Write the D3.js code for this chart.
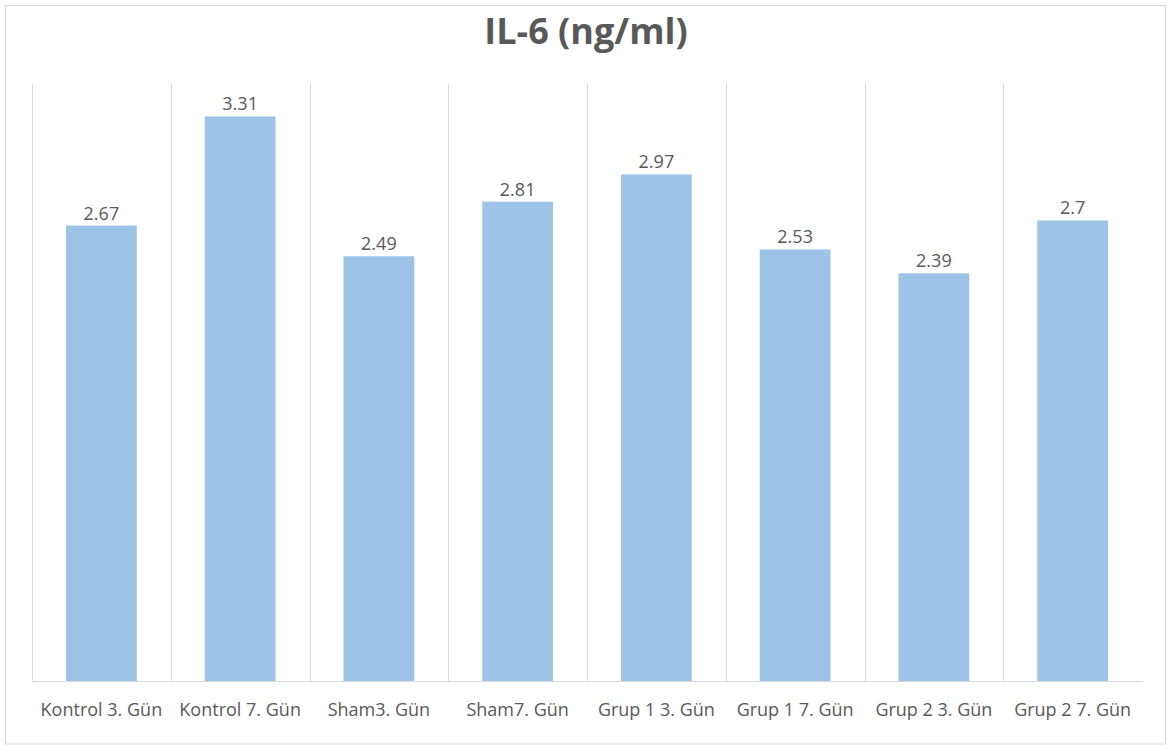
<!DOCTYPE html>
<html>
<head>
<meta charset="utf-8">
<script src="https://cdn.jsdelivr.net/npm/d3@7"></script>
<style>
  body { margin: 0; background: #fff; }
  text { font-family: "Open Sans", "Noto Sans", sans-serif; }
</style>
</head>
<body>
<svg id="chart" width="1169" height="745"></svg>
<script>
// categories and values
var groups = ["Kontrol 3. Gün", "Kontrol 7. Gün", "Sham3. Gün", "Sham7. Gün",
              "Grup 1 3. Gün", "Grup 1 7. Gün", "Grup 2 3. Gün", "Grup 2 7. Gün"];
var il6 = [2.67, 3.31, 2.49, 2.81, 2.97, 2.53, 2.39, 2.7];
var valueLabels = ["2.67", "3.31", "2.49", "2.81", "2.97", "2.53", "2.39", "2.7"];

var svg = d3.select("#chart");

// chart frame
svg.append("rect")
  .attr("x", 5.5).attr("y", 5.5)
  .attr("width", 1160).attr("height", 738.5)
  .style("fill", "#fff")
  .style("stroke", "#d9d9d9")
  .style("stroke-width", "1px");

// title
svg.append("text")
  .attr("x", 586).attr("y", 44)
  .attr("text-anchor", "middle")
  .style("font-size", "36px")
  .style("font-weight", "bold")
  .style("fill", "#595959")
  .text("IL-6 (ng/ml)");

var plotLeft = 32, plotRight = 1142, plotTop = 84, plotBottom = 681;

var x = d3.scaleBand().domain(groups).range([plotLeft, plotRight]).paddingInner(0).paddingOuter(0);
var y = d3.scaleLinear().domain([0, 3.5]).range([plotBottom, plotTop]);

// vertical separators between categories
svg.append("g")
  .selectAll("line")
  .data(groups)
  .enter()
  .append("line")
  .attr("x1", function(d) {return Math.round(x(d)) + 0.5})
  .attr("x2", function(d) {return Math.round(x(d)) + 0.5})
  .attr("y1", plotTop)
  .attr("y2", plotBottom)
  .style("stroke", "#d9d9d9")
  .style("stroke-width", "1px");

// bars
var barW = x.bandwidth() * 0.51;
svg.append("g")
  .selectAll("rect")
  .data(il6)
  .enter()
  .append("rect")
  .attr("x", function(d, i) {return x(groups[i]) + (x.bandwidth() - barW) / 2})
  .attr("y", function(d) {return y(d)})
  .attr("width", barW)
  .attr("height", function(d) {return plotBottom - y(d)})
  .style("fill", "#9dc3e6");

// value labels
svg.append("g")
  .selectAll("text")
  .data(il6)
  .enter()
  .append("text")
  .attr("x", function(d, i) {return x(groups[i]) + x.bandwidth() / 2})
  .attr("y", function(d) {return y(d) - 6})
  .attr("text-anchor", "middle")
  .style("font-size", "18px")
  .style("fill", "#595959")
  .text(function(d, i) {return valueLabels[i]});

// baseline axis
var xAxis = svg.append("g")
  .attr("transform", "translate(0," + plotBottom + ")")
  .call(d3.axisBottom(x).tickSize(0).tickPadding(22));
xAxis.select(".domain").style("stroke", "#d9d9d9");
xAxis.selectAll("text")
  .style("font-size", "18px")
  .style("font-family", "'Open Sans', sans-serif")
  .style("fill", "#595959");
</script>
</body>
</html>
